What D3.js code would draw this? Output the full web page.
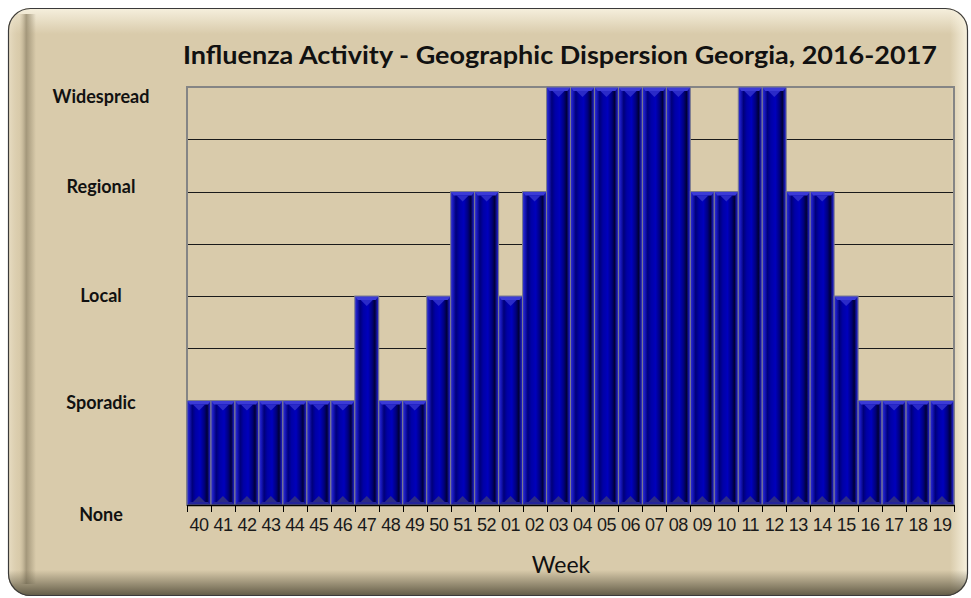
<!DOCTYPE html>
<html>
<head>
<meta charset="utf-8">
<script src="https://cdn.jsdelivr.net/npm/d3@7"></script>
<style>
  body { margin: 0; background: #fff; }
  svg { display: block; }
</style>
</head>
<body>
<div id="chart"></div>
<script>
const weeks = ['40','41','42','43','44','45','46','47','48','49','50','51','52',
  '01','02','03','04','05','06','07','08','09','10','11','12','13','14','15','16','17','18','19'];
// 0 None, 1 Sporadic, 2 Local, 3 Regional, 4 Widespread
const activity = [1,1,1,1,1,1,1,2,1,1,2,3,3,2,3,4,4,4,4,4,4,3,3,4,4,3,3,2,1,1,1,1];
const levelLabels = ['None', 'Sporadic', 'Local', 'Regional', 'Widespread'];
const levelOffsets = [11, 4, 1, -3, 11];

const width = 971;
const height = 598;
const margin = { top: 87, right: 17, bottom: 93, left: 187 };

const svg = d3.select('#chart')
  .append('svg')
  .attr('width', width)
  .attr('height', height);

const defs = svg.append('defs');

// ---- frame
defs.append('clipPath').attr('id', 'frameClip')
  .append('rect').attr('x', 8).attr('y', 8).attr('width', 960).attr('height', 588).attr('rx', 22);

function grad(id, x1, y1, x2, y2, stops) {
  const g = defs.append('linearGradient').attr('id', id)
    .attr('x1', x1).attr('y1', y1).attr('x2', x2).attr('y2', y2);
  stops.forEach(s => g.append('stop').attr('offset', s[0]).attr('stop-color', s[1]).attr('stop-opacity', s[2]));
}
grad('topG', 0, 0, 0, 1, [[0, '#f6f0de', 1], [1, '#f6f0de', 0]]);
grad('botG', 0, 0, 0, 1, [[0, '#5a5440', 0], [1, '#5a5440', 0.95]]);
grad('leftG', 0, 0, 1, 0, [[0, '#efe6cf', 0.7], [0.4, '#d9cbab', 0.3], [0.65, '#9a8e72', 0.85], [1, '#9a8e72', 0]]);
grad('rightG', 0, 0, 1, 0, [[0, '#f8f2e0', 0], [1, '#f8f2e0', 1]]);

const frame = svg.append('g').attr('clip-path', 'url(#frameClip)');
frame.append('rect').attr('x', 8).attr('y', 8).attr('width', 960).attr('height', 588).attr('fill', '#d9cbab');
frame.append('rect').attr('x', 8).attr('y', 8).attr('width', 960).attr('height', 26).attr('fill', 'url(#topG)');
frame.append('rect').attr('x', 8).attr('y', 14).attr('width', 28).attr('height', 570).attr('fill', 'url(#leftG)');
frame.append('rect').attr('x', 950).attr('y', 10).attr('width', 18).attr('height', 580).attr('fill', 'url(#rightG)');
frame.append('rect').attr('x', 8).attr('y', 570).attr('width', 960).attr('height', 26).attr('fill', 'url(#botG)');
svg.append('rect').attr('x', 8.5).attr('y', 8.5).attr('width', 959).attr('height', 587).attr('rx', 22)
  .attr('fill', 'none').attr('stroke', '#3a3a3a').attr('stroke-width', 1.2);

// ---- scales
const x = d3.scaleBand()
  .domain(weeks)
  .range([margin.left, width - margin.right])
  .padding(0);

const y = d3.scaleLinear()
  .domain([0, 4])
  .range([height - margin.bottom, margin.top]);

// ---- gridlines
svg.append('g')
  .selectAll('line')
  .data(d3.range(0.5, 4, 0.5))
  .join('line')
    .attr('x1', margin.left)
    .attr('x2', width - margin.right)
    .attr('y1', d => Math.round(y(d)) + 0.5)
    .attr('y2', d => Math.round(y(d)) + 0.5)
    .attr('stroke', '#1a1a1a')
    .attr('stroke-width', 1);

// plot border
svg.append('rect')
  .attr('x', margin.left)
  .attr('y', margin.top)
  .attr('width', width - margin.right - margin.left)
  .attr('height', y(0) - margin.top)
  .attr('fill', 'none')
  .attr('stroke', '#858585')
  .attr('stroke-width', 2);

// ---- bars
grad('barG', 0, 0, 1, 0, [
  [0, '#3434d0', 1], [0.1, '#1818bc', 1], [0.22, '#00007a', 1], [0.36, '#0000a6', 1],
  [0.55, '#0000bc', 1], [0.72, '#00007e', 1], [0.84, '#000038', 1], [0.93, '#1414a6', 1], [1, '#2e2ecc', 1]
]);

const bw = x.bandwidth();
const bars = svg.append('g')
  .selectAll('g')
  .data(weeks.map((w, i) => ({ week: w, value: activity[i] })))
  .join('g');

bars.append('rect')
  .attr('x', d => x(d.week))
  .attr('y', d => y(d.value))
  .attr('width', bw)
  .attr('height', d => y(0) - y(d.value))
  .attr('fill', 'url(#barG)');

// top bevel cap
bars.append('path')
  .attr('d', d => {
    const x0 = x(d.week), x1 = x0 + bw, t = y(d.value);
    return `M${x0},${t}L${x1},${t}L${x1 - 3},${t + 4}L${x0 + 3},${t + 4}Z`;
  })
  .attr('fill', '#3b3bd6');
bars.append('path')
  .attr('d', d => {
    const c = x(d.week) + bw / 2, t = y(d.value) + 4;
    return `M${c - 6},${t}L${c + 6},${t}L${c},${t + 6}Z`;
  })
  .attr('fill', '#2a2ac8');
// bottom bevel
bars.append('path')
  .attr('d', d => {
    const x0 = x(d.week), x1 = x0 + bw, b = y(0);
    return `M${x0 + 3},${b - 3}L${x1 - 3},${b - 3}L${x1},${b}L${x0},${b}Z`;
  })
  .attr('fill', '#24249a');
bars.append('path')
  .attr('d', d => {
    const c = x(d.week) + bw / 2, b = y(0) - 3;
    return `M${c - 6},${b}L${c + 6},${b}L${c},${b - 6}Z`;
  })
  .attr('fill', '#2c2c84');
// separators
bars.append('rect')
  .attr('x', d => x(d.week))
  .attr('y', d => y(d.value))
  .attr('width', bw)
  .attr('height', d => y(0) - y(d.value))
  .attr('fill', 'none')
  .attr('stroke', '#7c7c8c')
  .attr('stroke-width', 1);

// ---- x axis
const xAxis = svg.append('g')
  .attr('transform', `translate(0,${y(0)})`)
  .call(d3.axisBottom(x).tickSize(0).tickPadding(13).tickSizeOuter(0));
xAxis.select('.domain').attr('stroke', '#000').attr('stroke-width', 1.5);
xAxis.selectAll('text')
  .attr('font-family', '"Liberation Sans", Arial, sans-serif')
  .attr('font-size', '18px')
  .attr('letter-spacing', '-0.5px')
  .attr('fill', '#1a1a1a');

svg.append('g')
  .selectAll('line')
  .data(d3.range(weeks.length + 1))
  .join('line')
    .attr('x1', i => Math.round(margin.left + i * bw) + 0.5)
    .attr('x2', i => Math.round(margin.left + i * bw) + 0.5)
    .attr('y1', y(0))
    .attr('y2', y(0) + 7)
    .attr('stroke', '#000');

// ---- y labels
svg.append('g')
  .selectAll('text')
  .data(levelLabels)
  .join('text')
    .attr('x', 101)
    .attr('y', (d, i) => y(i) + levelOffsets[i])
    .attr('text-anchor', 'middle')
    .attr('dominant-baseline', 'middle')
    .attr('font-family', 'Lato, "Open Sans", sans-serif')
    .attr('font-weight', 'bold')
    .attr('font-size', '18px')
    .attr('fill', '#111')
    .text(d => d);

// ---- titles
svg.append('text')
  .attr('x', 560)
  .attr('y', 64)
  .attr('text-anchor', 'middle')
  .attr('font-family', 'Lato, "Open Sans", sans-serif')
  .attr('font-weight', 'bold')
  .attr('font-size', '25px')
  .attr('textLength', 754)
  .attr('lengthAdjust', 'spacingAndGlyphs')
  .attr('fill', '#111')
  .text('Influenza Activity - Geographic Dispersion Georgia, 2016-2017');

svg.append('text')
  .attr('x', 561)
  .attr('y', 573)
  .attr('text-anchor', 'middle')
  .attr('font-family', 'Lato, "Open Sans", sans-serif')
  .attr('font-size', '23px')
  .attr('fill', '#111')
  .text('Week');
</script>
</body>
</html>
